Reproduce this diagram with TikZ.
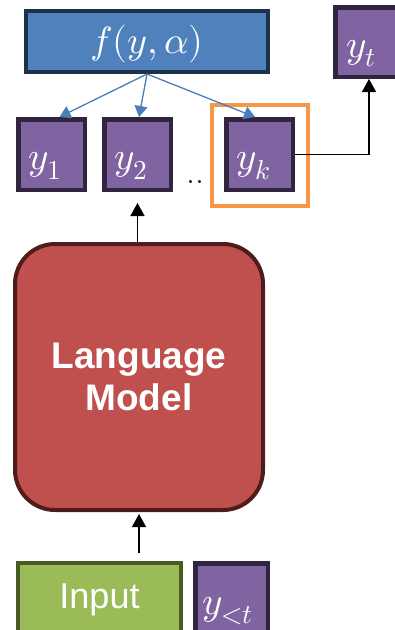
\documentclass[tikz,border=0pt]{standalone}
\usepackage{fontspec}
\usepackage{unicode-math}
\setmathfont{Latin Modern Math}
\usetikzlibrary{arrows.meta}

\newfontfamily\arialfont{Liberation Sans}

\definecolor{scorefill}{HTML}{4F81BD}
\definecolor{scoreline}{HTML}{1D3148}
\definecolor{tokfill}{HTML}{8064A2}
\definecolor{tokline}{HTML}{30243F}
\definecolor{lmfill}{HTML}{C0504D}
\definecolor{lmline}{HTML}{4E1C1C}
\definecolor{infill}{HTML}{9BBB59}
\definecolor{inline}{HTML}{4A5A25}
\definecolor{pick}{HTML}{F79646}
\definecolor{scorearrow}{HTML}{4A7EBB}

\tikzset{
  tok/.style={draw=tokline, fill=tokfill, line width=4.5pt, inner sep=0pt,
    minimum width=66.5pt, minimum height=70.5pt, text=white,
    text width=46pt, align=left, text height=32pt, text depth=2pt,
    font=\fontsize{39}{40}\selectfont},
  flow/.style={-{Triangle[length=13pt,width=14pt]}, line width=1.5pt, black},
  spread/.style={-{Triangle[length=11pt,width=13pt]}, line width=1.3pt, scorearrow},
}

\begin{document}
\begin{tikzpicture}[x=1pt, y=-1pt]
  \useasboundingbox (0,0) rectangle (395,630);

  % scoring function and candidate tokens
  \node(score) at (147, 41.5) [draw=scoreline, fill=scorefill, line width=4pt,
    minimum width=242pt, minimum height=61pt, inner sep=0pt, text=white,
    text height=26pt, text depth=2pt,
    font=\fontsize{38}{40}\selectfont] {$f(y,\alpha)$};
  \node(yt) at (369, 42) [tok, minimum width=67.5pt, minimum height=69.5pt] {$y_t$};
  \node(y1) at (51.5, 154.5) [tok] {$y_1$};
  \node(y2) at (137.5, 154.5) [tok] {$y_2$};
  \node(yk) at (259.5, 154.5) [tok] {$y_k$};
  \node(dots) at (195, 182) [font=\fontsize{36}{36}\selectfont] {..};
  \node(best) at (260, 155.5) [draw=pick, line width=4pt, minimum width=96pt,
    minimum height=101pt] {};

  % model and its input
  \node(lm) at (139, 377) [draw=lmline, fill=lmfill, line width=4pt,
    rounded corners=40pt, minimum width=248pt, minimum height=266pt,
    align=center, text=white, font=\arialfont\bfseries\fontsize{37}{42}\selectfont]
    {Language\\Model};
  \node(inp) at (99.5, 600) [draw=inline, fill=infill, line width=4pt,
    minimum width=163pt, minimum height=74pt, text=white,
    font=\arialfont\fontsize{36}{40}\selectfont] {Input};
  \node(prev) at (231.5, 600) [tok, minimum width=72.5pt, minimum height=73.5pt,
    text width=58pt, text height=30pt] {$y_{<t}$};

  \draw[spread] (score.south) to ([xshift=8pt]y1.north);
  \draw[spread] (score.south) to ([xshift=1.5pt]y2.north);
  \draw[spread] (score.south) to ([xshift=-4.5pt]yk.north);

  \draw[flow] (yk.east) -| (yt.south);
  \draw[flow, shorten >=11pt] (lm.north -| y2.south) to (y2.south);
  \draw[flow, shorten <=8pt, shorten >=2pt] (inp.north -| lm.south) to (lm.south);
\end{tikzpicture}
\end{document}
